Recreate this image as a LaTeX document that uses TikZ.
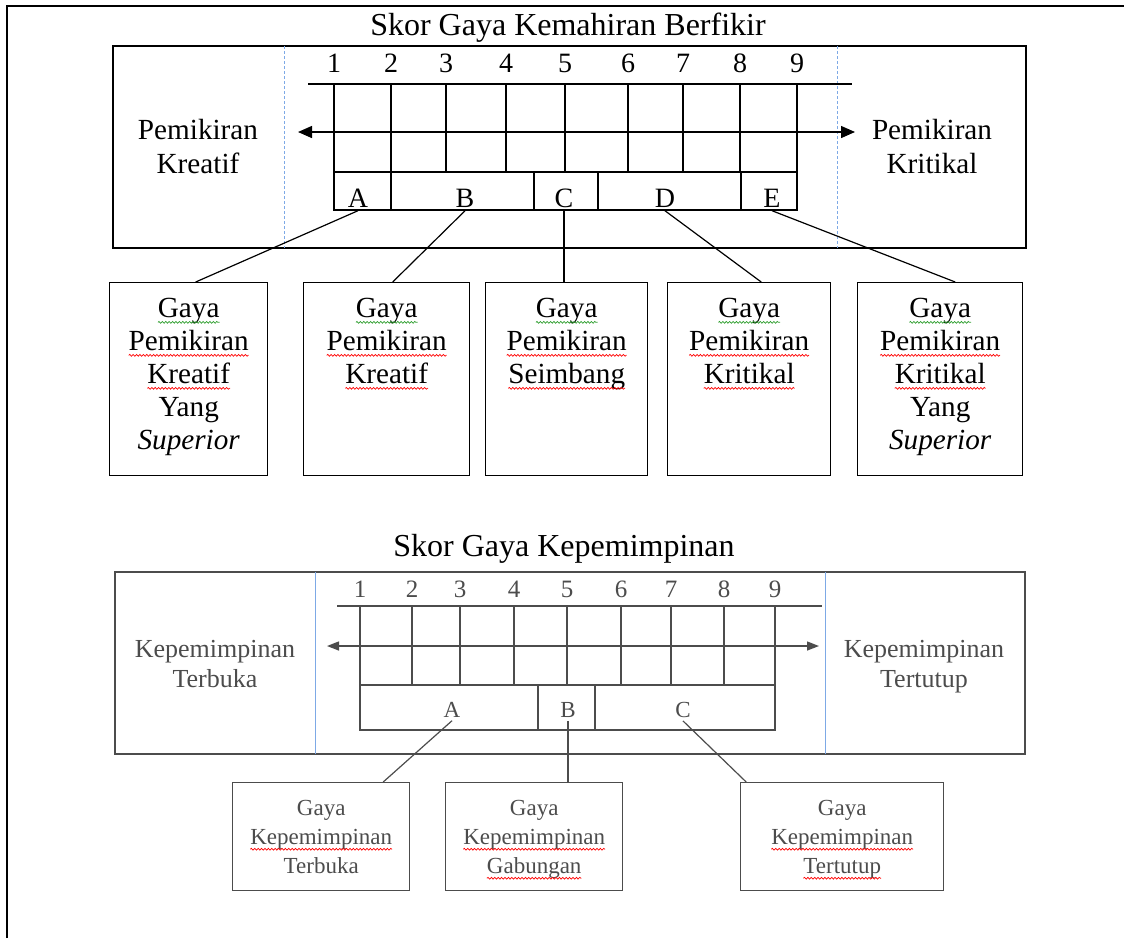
\documentclass[tikz,border=0pt]{standalone}
\usepackage{fontspec}
\setmainfont{Liberation Serif}
\usetikzlibrary{positioning, arrows.meta, decorations.pathmorphing}
\definecolor{garisbiru}{HTML}{7DA9E6}
\definecolor{kelabu}{gray}{0.3}
\definecolor{hijau}{HTML}{2E9E2E}
% garis beralun di bawah perkataan
\newcommand{\ejaan}[2][red]{\tikz[baseline=(w.base)]{\node[inner sep=0pt, outer sep=0pt] (w) {#2}; \draw[#1, line width=0.35pt, decorate, decoration={snake, amplitude=0.45pt, segment length=1.7pt}] ([yshift=-2.3pt]w.base west) -- ([yshift=-2.3pt]w.base east);}}

\begin{document}
\begin{tikzpicture}[x=0.5pt, y=-0.5pt, line width=0.7pt,
  judul/.style={font=\fontsize{16}{19}\selectfont, anchor=base, inner sep=0pt},
  angkab/.style={font=\fontsize{14}{16}\selectfont, anchor=base, inner sep=0pt},
  hurufb/.style={font=\fontsize{14}{16}\selectfont, anchor=base, inner sep=1.5pt},
  sisib/.style={font=\fontsize{14.6}{17}\selectfont, align=center, anchor=north, inner sep=0pt},
  isib/.style={font=\fontsize{14.6}{16.5}\selectfont, align=center, inner sep=0pt},
  kotakb/.style={draw, anchor=north west, inner sep=0pt, minimum height=96.5pt},
  angkap/.style={font=\fontsize{12.5}{14}\selectfont, anchor=base, inner sep=0pt},
  hurufp/.style={font=\fontsize{11.5}{13}\selectfont, anchor=base, inner sep=1.5pt},
  sisip/.style={font=\fontsize{13}{15}\selectfont, align=center, anchor=north, inner sep=0pt},
  isip/.style={font=\fontsize{11.5}{14.5}\selectfont, align=center, inner sep=0pt},
  kotakp/.style={draw, anchor=north west, inner sep=0pt, minimum height=54pt},
  pemisah/.style={garisbiru, line width=0.4pt, dash pattern=on 1.5pt off 1pt},
  hubung/.style={line width=0.6pt},
  panahb/.style={{Triangle[length=7pt,width=6pt]}-{Triangle[length=7pt,width=6pt]}},
  panahp/.style={{Triangle[length=6pt,width=4.5pt]}-{Triangle[length=6pt,width=4.5pt]}}]
\useasboundingbox (0,0) rectangle (1124,938);
\draw[line width=1.1pt] (7,938) -- (7,6) -- (1124,6);

% Skor Gaya Kemahiran Berfikir
\node[judul] (jb) at (568,35) {Skor Gaya Kemahiran Berfikir};
\draw (113,46) rectangle (1026,248);
\draw[pemisah] (284,46) -- (284,248);
\draw[pemisah] (837,46) -- (837,248);
\foreach \x [count=\i] in {334,391,446,506,565,628,683,740,797}{
  \node[angkab] (nb\i) at (\x,72) {\i};
  \draw (\x,84) -- (\x,172);
}
\draw (308,84) -- (852,84);
\draw (334,172) -- (797,172) -- (797,210) -- (334,210) -- cycle;
\foreach \x in {391,534,598,741} \draw (\x,172) -- (\x,210);
\foreach \h/\x in {A/358,B/465,C/564,D/665,E/772} \node[hurufb] (hb\h) at (\x,207) {\h};
\coordinate (kiri1) at (298,132);
\coordinate (kanan1) at (855,132);
\draw[panahb] (kiri1) -- (kanan1);
\node[sisib] (kre) at (198,119) {Pemikiran\\Kreatif};
\node[sisib] (kri) at (932,119) {Pemikiran\\Kritikal};

\node[kotakb, minimum width=79pt] (kb1) at (109,282) {};
\node[kotakb, minimum width=83pt] (kb2) at (303,282) {};
\node[kotakb, minimum width=81pt] (kb3) at (485,282) {};
\node[kotakb, minimum width=81.5pt] (kb4) at (667,282) {};
\node[kotakb, minimum width=82.5pt] (kb5) at (857,282) {};
\node[isib, below=8pt of kb1.north] (tb1) {\ejaan[hijau]{Gaya}\\\ejaan{Pemikiran}\\\ejaan{Kreatif}\\Yang\\\textit{Superior}};
\node[isib, below=8pt of kb2.north] (tb2) {\ejaan[hijau]{Gaya}\\\ejaan{Pemikiran}\\\ejaan{Kreatif}};
\node[isib, below=8pt of kb3.north] (tb3) {\ejaan[hijau]{Gaya}\\\ejaan{Pemikiran}\\\ejaan{Seimbang}};
\node[isib, below=8pt of kb4.north] (tb4) {\ejaan[hijau]{Gaya}\\\ejaan{Pemikiran}\\\ejaan{Kritikal}};
\node[isib, below=8pt of kb5.north] (tb5) {\ejaan[hijau]{Gaya}\\\ejaan{Pemikiran}\\\ejaan{Kritikal}\\Yang\\\textit{Superior}};
\draw[hubung] (hbA.south) -- ([xshift=3.5pt]kb1.north);
\draw[hubung] (hbB.south) -- ([xshift=3pt]kb2.north);
\draw[hubung] (hbC.south) -- (hbC.south |- kb3.north);
\draw[hubung] (hbD.south) -- ([xshift=6pt]kb4.north);
\draw[hubung] (hbE.south) -- ([xshift=7.5pt]kb5.north);

% Skor Gaya Kepemimpinan
\node[judul] (jp) at (564,556) {Skor Gaya Kepemimpinan};
\begin{scope}[color=kelabu]
\draw (115,572) rectangle (1025,754);
\draw[pemisah, dash pattern=] (315,572) -- (315,754);
\draw[pemisah, dash pattern=] (825,572) -- (825,754);
\foreach \x [count=\i] in {360,412,460,514,567,621,671,724,775}{
  \node[angkap] (np\i) at (\x,597) {\i};
  \draw (\x,606) -- (\x,685);
}
\draw (337,606) -- (822,606);
\draw (360,685) -- (775,685) -- (775,730) -- (360,730) -- cycle;
\foreach \x in {538,595} \draw (\x,685) -- (\x,730);
\foreach \h/\x in {A/452,B/568,C/683} \node[hurufp] (hp\h) at (\x,717) {\h};
\coordinate (kiri2) at (327,646);
\coordinate (kanan2) at (819,646);
\draw[panahp] (kiri2) -- (kanan2);
\node[sisip] (ter) at (215,640) {Kepemimpinan\\Terbuka};
\node[sisip] (tut) at (924,640) {Kepemimpinan\\Tertutup};

\node[kotakp, minimum width=88.5pt] (kp1) at (232,782) {};
\node[kotakp, minimum width=88.5pt] (kp2) at (445,782) {};
\node[kotakp, minimum width=101.5pt] (kp3) at (740,782) {};
\node[isip, below=9pt of kp1.north] (tp1) {Gaya\\\ejaan{Kepemimpinan}\\Terbuka};
\node[isip, below=9pt of kp2.north] (tp2) {Gaya\\\ejaan{Kepemimpinan}\\\ejaan{Gabungan}};
\node[isip, below=9pt of kp3.north] (tp3) {Gaya\\\ejaan{Kepemimpinan}\\\ejaan{Tertutup}};
\draw[hubung] (hpA.south) -- ([xshift=31pt]kp1.north);
\draw[hubung] (hpB.south) -- (hpB.south |- kp2.north);
\draw[hubung] (hpC.south) -- ([xshift=-48pt]kp3.north);
\end{scope}
\end{tikzpicture}
\end{document}
